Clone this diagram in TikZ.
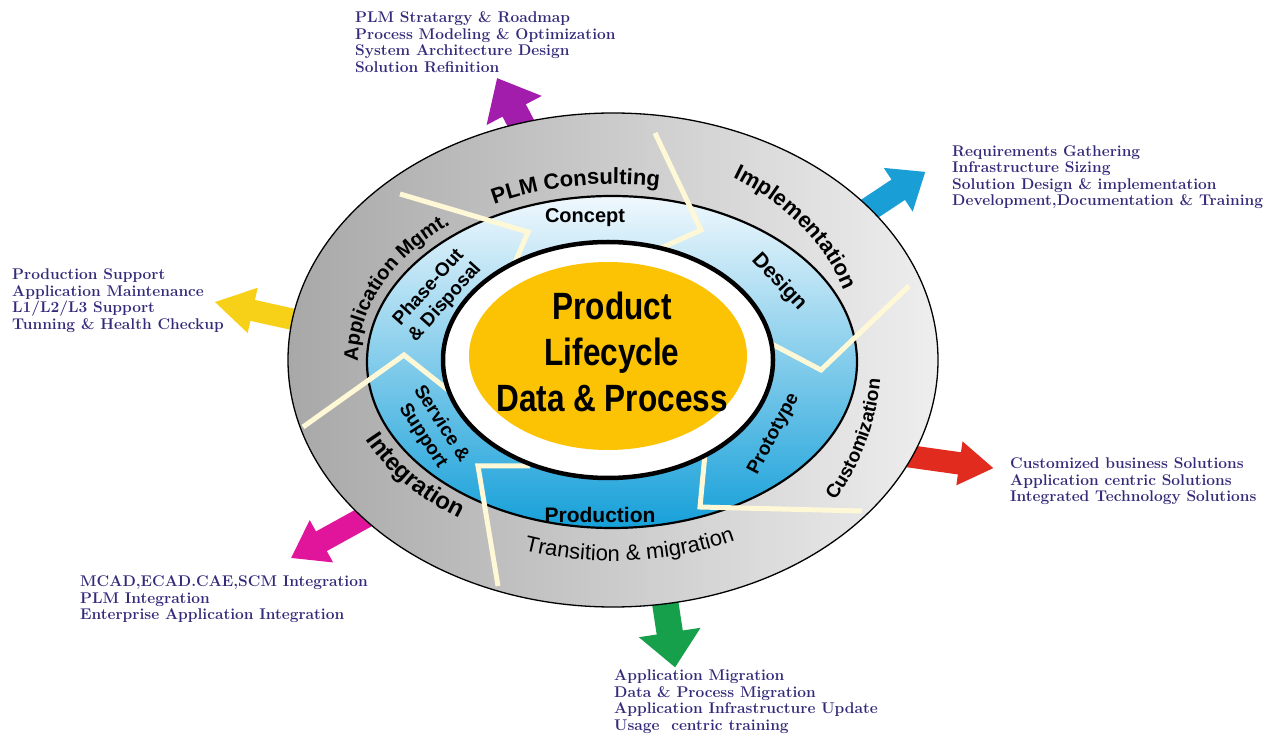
\documentclass[tikz,border=0pt]{standalone}
\usepackage{fontspec}
\newfontfamily\labelfont{Liberation Sans}
\newfontfamily\hubfont[FakeStretch=0.83]{Liberation Sans}
\usetikzlibrary{shapes.arrows,decorations.text,calc}
\definecolor{ringdark}{RGB}{168,168,168}
\definecolor{ringlight}{RGB}{238,238,238}
\definecolor{bluetop}{RGB}{240,248,253}
\definecolor{bluemid}{RGB}{150,206,236}
\definecolor{bluebot}{RGB}{22,160,217}
\definecolor{cream}{RGB}{255,248,214}
\definecolor{hubyellow}{RGB}{251,195,3}
\definecolor{listblue}{RGB}{52,42,122}
\definecolor{arrpurple}{RGB}{163,29,173}
\definecolor{arrblue}{RGB}{26,158,214}
\definecolor{arryellow}{RGB}{247,209,23}
\definecolor{arrred}{RGB}{225,43,30}
\definecolor{arrmagenta}{RGB}{224,21,155}
\definecolor{arrgreen}{RGB}{23,160,75}
\tikzset{
bigarrow/.style={single arrow,draw=none,inner xsep=0pt,anchor=tail},
list/.style={anchor=north west,align=left,inner sep=0pt,text=listblue,font=\bfseries\fontsize{15.5}{16.6}\selectfont},
seam/.style={draw=cream,line width=5pt},
phase/.style={inner sep=0pt,align=center},
ringlabel/.style={decorate,decoration={text along path,text align=center,text={#1}}}
}

\begin{document}
\begin{tikzpicture}[x=1pt,y=1pt]
			\path[use as bounding box,fill=white] (0,0) rectangle (1277,734);
			
			\coordinate (hub) at (613,374);
			
			%arrows out of the wheel
			\node[bigarrow,fill=arrpurple,rotate=117.8,minimum height=81pt,inner ysep=13pt,single arrow head extend=18pt,single arrow tip angle=81] (arrConsult) at (535,584) {};
			\node[bigarrow,fill=arrblue,rotate=33.5,minimum height=96pt,inner ysep=12pt,single arrow head extend=14pt,single arrow tip angle=78] (arrImpl) at (845,509) {};
			\node[bigarrow,fill=arryellow,rotate=167.5,minimum height=92pt,inner ysep=10.5pt,single arrow head extend=12.5pt,single arrow tip angle=62] (arrAppMgmt) at (305,412) {};
			\node[bigarrow,fill=arrred,rotate=-8,minimum height=94pt,inner ysep=11pt,single arrow head extend=11pt,single arrow tip angle=66] (arrCustom) at (900,279) {};
			\node[bigarrow,fill=arrmagenta,rotate=208.9,minimum height=99pt,inner ysep=11pt,single arrow head extend=13pt,single arrow tip angle=70] (arrInteg) at (378,224) {};
			\node[bigarrow,fill=arrgreen,rotate=-81.3,minimum height=73pt,inner ysep=13pt,single arrow head extend=18pt,single arrow tip angle=83] (arrTrans) at (664,139) {};
			
			%draw rings
			\draw[line width=1.3pt,left color=ringdark,right color=ringlight] (hub) ellipse [x radius=325,y radius=247];
			\draw[line width=2.2pt,top color=bluetop,middle color=bluemid,bottom color=bluebot] (612,372) ellipse [x radius=245,y radius=166];
			
			%seams between the phases
			\draw[seam] (400,540) -- (528,502) -- (511,462);
			\draw[seam] (655,601) -- (701,504) -- (650,481);
			\draw[seam] (909,448) -- (821,364) -- (768,392);
			\draw[seam] (705,280) -- (700,227) -- (862,223);
			\draw[seam] (530,268) -- (478,268) -- (498,148);
			\draw[seam] (303,307) -- (404,379) -- (448,344);
			
			%hub
			\draw[line width=4.5pt,fill=white] (608,374) ellipse [x radius=165,y radius=118];
			\fill[hubyellow] (608,378) ellipse [x radius=139,y radius=94];
			\node[font=\hubfont\bfseries\fontsize{38}{46}\selectfont,align=center] (hubtext) at (612,382) {Product\\Lifecycle\\Data \& Process};
			
			%services on the outer ring
			\path[ringlabel={|\labelfont\bfseries\fontsize{22}{22}\selectfont|PLM Consulting}] (hub) ++(139.5:255 and 176) arc[start angle=139.5,end angle=59.5,x radius=255,y radius=176];
			\path[ringlabel={|\labelfont\bfseries\fontsize{22}{22}\selectfont|Implementation}] (hub) ++(75:245 and 209) arc[start angle=75,end angle=3,x radius=245,y radius=209];
			\path[ringlabel={|\labelfont\bfseries\fontsize{20}{20}\selectfont|Application Mgmt.}] (hub) ++(197:255 and 176) arc[start angle=197,end angle=117,x radius=255,y radius=176];
			\path[ringlabel={|\labelfont\bfseries\fontsize{19}{19}\selectfont|Customization}] (hub) ++(-50:268 and 251) arc[start angle=-50,end angle=12,x radius=268,y radius=251];
			\path[ringlabel={|\labelfont\fontsize{22}{22}\selectfont|Transition {\&} migration}] (hub) ++(-126:276 and 201) arc[start angle=-126,end angle=-46,x radius=276,y radius=201];
			\path[ringlabel={|\labelfont\bfseries\fontsize{24}{24}\selectfont|Integration}] (hub) ++(186:272 and 192) arc[start angle=186,end angle=250,x radius=272,y radius=192];
			
			%phases on the blue ring
			\node[phase,font=\labelfont\bfseries\fontsize{20}{22}\selectfont] (concept) at (585,516) {Concept};
			\node[phase,font=\labelfont\bfseries\fontsize{21}{22}\selectfont,rotate=-47] (design) at (779,452) {Design};
			\node[phase,font=\labelfont\bfseries\fontsize{19}{22}\selectfont,rotate=62] (prototype) at (774,300) {Prototype};
			\node[phase,font=\labelfont\bfseries\fontsize{21}{22}\selectfont] (production) at (600,219) {Production};
			\node[phase,font=\labelfont\bfseries\fontsize{19}{22}\selectfont,rotate=-57] (service) at (432,304) {Service \&\\Support};
			\node[phase,font=\labelfont\bfseries\fontsize{19}{22}\selectfont,rotate=48] (phaseout) at (437,439) {Phase-Out\\\& Disposal};
			
			%offerings
			\node[list] (txtConsult) at (355,722.5) {PLM Stratargy \& Roadmap\\Process Modeling \& Optimization\\System Architecture Design\\Solution Refinition};
			\node[list] (txtImpl) at (952,589) {Requirements Gathering\\Infrastructure Sizing\\Solution Design \& implementation\\Development,Documentation \& Training};
			\node[list] (txtAppMgmt) at (12,465.5) {Production Support\\Application Maintenance\\L\oldstylenums{1}/L\oldstylenums{2}/L\oldstylenums{3} Support\\Tunning \& Health Checkup};
			\node[list] (txtCustom) at (1010,276.5) {Customized business Solutions\\Application centric Solutions\\Integrated Technology Solutions};
			\node[list] (txtInteg) at (80,158.5) {MCAD,ECAD.CAE,SCM Integration\\PLM Integration\\Enterprise Application Integration};
			\node[list] (txtTrans) at (614,64.5) {Application Migration\\Data \& Process Migration\\Application Infrastructure Update\\Usage\ \ centric training};
			
\end{tikzpicture}
\end{document}
